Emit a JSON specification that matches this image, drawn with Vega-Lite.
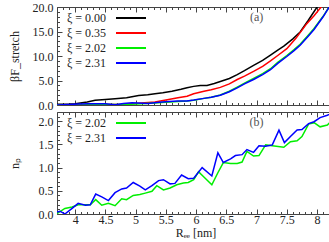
{
  "$schema": "https://vega.github.io/schema/vega-lite/v6.json",
  "padding": {"left": 7, "top": 0, "right": 2, "bottom": 0},
  "spacing": -6,
  "config": {
    "view": {"stroke": "#444", "strokeWidth": 1},
    "font": "Liberation Serif",
    "axis": {"domain": false, "grid": false, "tickColor": "#444", "labelFont": "Liberation Serif", "labelFontSize": 12, "labelColor": "#222", "titleFont": "Liberation Serif", "titleFontSize": 12, "titleFontWeight": "normal", "titleColor": "#222", "labelOverlap": false, "labelFlush": false},
    "legend": {"labelFont": "Liberation Serif", "labelFontSize": 12, "labelColor": "#222", "padding": 0}
  },
  "datasets": {
    "top": [
      {"R": 3.70, "F": 0.15, "xi": "ξ = 0.00"},
      {"R": 3.90, "F": 0.2, "xi": "ξ = 0.00"},
      {"R": 4.00, "F": 0.27, "xi": "ξ = 0.00"},
      {"R": 4.20, "F": 0.6, "xi": "ξ = 0.00"},
      {"R": 4.33, "F": 0.95, "xi": "ξ = 0.00"},
      {"R": 4.50, "F": 1.1, "xi": "ξ = 0.00"},
      {"R": 4.66, "F": 1.27, "xi": "ξ = 0.00"},
      {"R": 4.85, "F": 1.5, "xi": "ξ = 0.00"},
      {"R": 5.05, "F": 1.95, "xi": "ξ = 0.00"},
      {"R": 5.20, "F": 2.1, "xi": "ξ = 0.00"},
      {"R": 5.32, "F": 2.3, "xi": "ξ = 0.00"},
      {"R": 5.45, "F": 2.5, "xi": "ξ = 0.00"},
      {"R": 5.60, "F": 2.8, "xi": "ξ = 0.00"},
      {"R": 5.75, "F": 3.2, "xi": "ξ = 0.00"},
      {"R": 5.85, "F": 3.5, "xi": "ξ = 0.00"},
      {"R": 5.96, "F": 3.8, "xi": "ξ = 0.00"},
      {"R": 6.07, "F": 4.0, "xi": "ξ = 0.00"},
      {"R": 6.18, "F": 4.0, "xi": "ξ = 0.00"},
      {"R": 6.30, "F": 4.4, "xi": "ξ = 0.00"},
      {"R": 6.40, "F": 4.8, "xi": "ξ = 0.00"},
      {"R": 6.55, "F": 5.4, "xi": "ξ = 0.00"},
      {"R": 6.68, "F": 6.2, "xi": "ξ = 0.00"},
      {"R": 6.80, "F": 7.0, "xi": "ξ = 0.00"},
      {"R": 6.95, "F": 8.1, "xi": "ξ = 0.00"},
      {"R": 7.10, "F": 9.1, "xi": "ξ = 0.00"},
      {"R": 7.23, "F": 10.2, "xi": "ξ = 0.00"},
      {"R": 7.35, "F": 11.2, "xi": "ξ = 0.00"},
      {"R": 7.45, "F": 12.0, "xi": "ξ = 0.00"},
      {"R": 7.60, "F": 13.5, "xi": "ξ = 0.00"},
      {"R": 7.72, "F": 14.9, "xi": "ξ = 0.00"},
      {"R": 7.85, "F": 17.2, "xi": "ξ = 0.00"},
      {"R": 8.00, "F": 20.0, "xi": "ξ = 0.00"},
      {"R": 8.05, "F": 21.0, "xi": "ξ = 0.00"},
      {"R": 3.70, "F": 0.0, "xi": "ξ = 0.35"},
      {"R": 4.00, "F": 0.0, "xi": "ξ = 0.35"},
      {"R": 4.30, "F": 0.05, "xi": "ξ = 0.35"},
      {"R": 4.60, "F": 0.1, "xi": "ξ = 0.35"},
      {"R": 4.77, "F": 0.13, "xi": "ξ = 0.35"},
      {"R": 5.00, "F": 0.3, "xi": "ξ = 0.35"},
      {"R": 5.15, "F": 0.45, "xi": "ξ = 0.35"},
      {"R": 5.32, "F": 0.6, "xi": "ξ = 0.35"},
      {"R": 5.50, "F": 1.0, "xi": "ξ = 0.35"},
      {"R": 5.70, "F": 1.5, "xi": "ξ = 0.35"},
      {"R": 5.85, "F": 1.8, "xi": "ξ = 0.35"},
      {"R": 5.96, "F": 2.3, "xi": "ξ = 0.35"},
      {"R": 6.13, "F": 2.8, "xi": "ξ = 0.35"},
      {"R": 6.25, "F": 3.1, "xi": "ξ = 0.35"},
      {"R": 6.40, "F": 3.6, "xi": "ξ = 0.35"},
      {"R": 6.55, "F": 4.3, "xi": "ξ = 0.35"},
      {"R": 6.68, "F": 5.2, "xi": "ξ = 0.35"},
      {"R": 6.80, "F": 5.9, "xi": "ξ = 0.35"},
      {"R": 6.95, "F": 6.85, "xi": "ξ = 0.35"},
      {"R": 7.10, "F": 7.9, "xi": "ξ = 0.35"},
      {"R": 7.23, "F": 9.0, "xi": "ξ = 0.35"},
      {"R": 7.35, "F": 10.1, "xi": "ξ = 0.35"},
      {"R": 7.50, "F": 11.5, "xi": "ξ = 0.35"},
      {"R": 7.65, "F": 13.6, "xi": "ξ = 0.35"},
      {"R": 7.83, "F": 16.6, "xi": "ξ = 0.35"},
      {"R": 7.95, "F": 18.2, "xi": "ξ = 0.35"},
      {"R": 8.10, "F": 20.5, "xi": "ξ = 0.35"},
      {"R": 3.70, "F": 0.0, "xi": "ξ = 2.02"},
      {"R": 4.00, "F": 0.0, "xi": "ξ = 2.02"},
      {"R": 4.30, "F": 0.05, "xi": "ξ = 2.02"},
      {"R": 4.60, "F": 0.1, "xi": "ξ = 2.02"},
      {"R": 4.90, "F": 0.15, "xi": "ξ = 2.02"},
      {"R": 5.10, "F": 0.25, "xi": "ξ = 2.02"},
      {"R": 5.30, "F": 0.4, "xi": "ξ = 2.02"},
      {"R": 5.50, "F": 0.55, "xi": "ξ = 2.02"},
      {"R": 5.70, "F": 0.7, "xi": "ξ = 2.02"},
      {"R": 5.85, "F": 0.8, "xi": "ξ = 2.02"},
      {"R": 5.96, "F": 0.95, "xi": "ξ = 2.02"},
      {"R": 6.13, "F": 1.35, "xi": "ξ = 2.02"},
      {"R": 6.25, "F": 1.6, "xi": "ξ = 2.02"},
      {"R": 6.40, "F": 2.05, "xi": "ξ = 2.02"},
      {"R": 6.55, "F": 2.8, "xi": "ξ = 2.02"},
      {"R": 6.68, "F": 3.65, "xi": "ξ = 2.02"},
      {"R": 6.80, "F": 4.45, "xi": "ξ = 2.02"},
      {"R": 6.95, "F": 5.4, "xi": "ξ = 2.02"},
      {"R": 7.10, "F": 6.4, "xi": "ξ = 2.02"},
      {"R": 7.23, "F": 7.4, "xi": "ξ = 2.02"},
      {"R": 7.35, "F": 8.7, "xi": "ξ = 2.02"},
      {"R": 7.50, "F": 10.1, "xi": "ξ = 2.02"},
      {"R": 7.62, "F": 11.3, "xi": "ξ = 2.02"},
      {"R": 7.72, "F": 12.4, "xi": "ξ = 2.02"},
      {"R": 7.85, "F": 14.2, "xi": "ξ = 2.02"},
      {"R": 7.95, "F": 15.6, "xi": "ξ = 2.02"},
      {"R": 8.10, "F": 18.1, "xi": "ξ = 2.02"},
      {"R": 8.20, "F": 20.0, "xi": "ξ = 2.02"},
      {"R": 8.25, "F": 20.9, "xi": "ξ = 2.02"},
      {"R": 3.70, "F": 0.0, "xi": "ξ = 2.31"},
      {"R": 3.90, "F": 0.1, "xi": "ξ = 2.31"},
      {"R": 4.05, "F": 0.2, "xi": "ξ = 2.31"},
      {"R": 4.22, "F": 0.27, "xi": "ξ = 2.31"},
      {"R": 4.50, "F": 0.27, "xi": "ξ = 2.31"},
      {"R": 4.66, "F": 0.05, "xi": "ξ = 2.31"},
      {"R": 4.80, "F": 0.3, "xi": "ξ = 2.31"},
      {"R": 4.94, "F": 0.47, "xi": "ξ = 2.31"},
      {"R": 5.21, "F": 0.33, "xi": "ξ = 2.31"},
      {"R": 5.35, "F": 0.5, "xi": "ξ = 2.31"},
      {"R": 5.49, "F": 0.67, "xi": "ξ = 2.31"},
      {"R": 5.70, "F": 0.8, "xi": "ξ = 2.31"},
      {"R": 5.85, "F": 0.82, "xi": "ξ = 2.31"},
      {"R": 5.96, "F": 1.0, "xi": "ξ = 2.31"},
      {"R": 6.13, "F": 1.35, "xi": "ξ = 2.31"},
      {"R": 6.25, "F": 1.6, "xi": "ξ = 2.31"},
      {"R": 6.40, "F": 2.0, "xi": "ξ = 2.31"},
      {"R": 6.55, "F": 2.7, "xi": "ξ = 2.31"},
      {"R": 6.68, "F": 3.5, "xi": "ξ = 2.31"},
      {"R": 6.80, "F": 4.3, "xi": "ξ = 2.31"},
      {"R": 6.95, "F": 5.2, "xi": "ξ = 2.31"},
      {"R": 7.10, "F": 6.2, "xi": "ξ = 2.31"},
      {"R": 7.23, "F": 7.2, "xi": "ξ = 2.31"},
      {"R": 7.35, "F": 8.5, "xi": "ξ = 2.31"},
      {"R": 7.50, "F": 9.9, "xi": "ξ = 2.31"},
      {"R": 7.62, "F": 11.1, "xi": "ξ = 2.31"},
      {"R": 7.72, "F": 12.2, "xi": "ξ = 2.31"},
      {"R": 7.85, "F": 14.0, "xi": "ξ = 2.31"},
      {"R": 7.95, "F": 15.4, "xi": "ξ = 2.31"},
      {"R": 8.10, "F": 18.0, "xi": "ξ = 2.31"},
      {"R": 8.20, "F": 20.0, "xi": "ξ = 2.31"},
      {"R": 8.25, "F": 20.9, "xi": "ξ = 2.31"}
    ],
    "bottom": [
      {"R": 3.70, "n": 0.01, "xi": "ξ = 2.02"},
      {"R": 3.83, "n": 0.12, "xi": "ξ = 2.02"},
      {"R": 3.95, "n": 0.15, "xi": "ξ = 2.02"},
      {"R": 4.05, "n": 0.2, "xi": "ξ = 2.02"},
      {"R": 4.17, "n": 0.2, "xi": "ξ = 2.02"},
      {"R": 4.25, "n": 0.2, "xi": "ξ = 2.02"},
      {"R": 4.34, "n": 0.31, "xi": "ξ = 2.02"},
      {"R": 4.44, "n": 0.19, "xi": "ξ = 2.02"},
      {"R": 4.55, "n": 0.23, "xi": "ξ = 2.02"},
      {"R": 4.66, "n": 0.18, "xi": "ξ = 2.02"},
      {"R": 4.77, "n": 0.33, "xi": "ξ = 2.02"},
      {"R": 4.85, "n": 0.31, "xi": "ξ = 2.02"},
      {"R": 4.96, "n": 0.4, "xi": "ξ = 2.02"},
      {"R": 5.07, "n": 0.42, "xi": "ξ = 2.02"},
      {"R": 5.16, "n": 0.45, "xi": "ξ = 2.02"},
      {"R": 5.27, "n": 0.49, "xi": "ξ = 2.02"},
      {"R": 5.35, "n": 0.61, "xi": "ξ = 2.02"},
      {"R": 5.46, "n": 0.52, "xi": "ξ = 2.02"},
      {"R": 5.57, "n": 0.56, "xi": "ξ = 2.02"},
      {"R": 5.68, "n": 0.63, "xi": "ξ = 2.02"},
      {"R": 5.79, "n": 0.67, "xi": "ξ = 2.02"},
      {"R": 5.87, "n": 0.68, "xi": "ξ = 2.02"},
      {"R": 5.96, "n": 0.74, "xi": "ξ = 2.02"},
      {"R": 6.04, "n": 0.91, "xi": "ξ = 2.02"},
      {"R": 6.15, "n": 0.77, "xi": "ξ = 2.02"},
      {"R": 6.26, "n": 0.63, "xi": "ξ = 2.02"},
      {"R": 6.36, "n": 0.89, "xi": "ξ = 2.02"},
      {"R": 6.45, "n": 1.11, "xi": "ξ = 2.02"},
      {"R": 6.57, "n": 1.09, "xi": "ξ = 2.02"},
      {"R": 6.68, "n": 1.09, "xi": "ξ = 2.02"},
      {"R": 6.76, "n": 1.12, "xi": "ξ = 2.02"},
      {"R": 6.84, "n": 1.35, "xi": "ξ = 2.02"},
      {"R": 6.95, "n": 1.25, "xi": "ξ = 2.02"},
      {"R": 7.04, "n": 1.26, "xi": "ξ = 2.02"},
      {"R": 7.15, "n": 1.49, "xi": "ξ = 2.02"},
      {"R": 7.26, "n": 1.47, "xi": "ξ = 2.02"},
      {"R": 7.45, "n": 1.44, "xi": "ξ = 2.02"},
      {"R": 7.56, "n": 1.56, "xi": "ξ = 2.02"},
      {"R": 7.67, "n": 1.58, "xi": "ξ = 2.02"},
      {"R": 7.75, "n": 1.67, "xi": "ξ = 2.02"},
      {"R": 7.86, "n": 1.94, "xi": "ξ = 2.02"},
      {"R": 7.95, "n": 1.97, "xi": "ξ = 2.02"},
      {"R": 8.05, "n": 1.88, "xi": "ξ = 2.02"},
      {"R": 8.17, "n": 1.92, "xi": "ξ = 2.02"},
      {"R": 8.28, "n": 2.06, "xi": "ξ = 2.02"},
      {"R": 3.70, "n": 0.04, "xi": "ξ = 2.31"},
      {"R": 3.75, "n": 0.06, "xi": "ξ = 2.31"},
      {"R": 3.83, "n": 0.0, "xi": "ξ = 2.31"},
      {"R": 3.95, "n": 0.12, "xi": "ξ = 2.31"},
      {"R": 4.05, "n": 0.23, "xi": "ξ = 2.31"},
      {"R": 4.17, "n": 0.19, "xi": "ξ = 2.31"},
      {"R": 4.25, "n": 0.2, "xi": "ξ = 2.31"},
      {"R": 4.34, "n": 0.43, "xi": "ξ = 2.31"},
      {"R": 4.44, "n": 0.37, "xi": "ξ = 2.31"},
      {"R": 4.55, "n": 0.29, "xi": "ξ = 2.31"},
      {"R": 4.66, "n": 0.46, "xi": "ξ = 2.31"},
      {"R": 4.77, "n": 0.54, "xi": "ξ = 2.31"},
      {"R": 4.85, "n": 0.56, "xi": "ξ = 2.31"},
      {"R": 4.96, "n": 0.68, "xi": "ξ = 2.31"},
      {"R": 5.07, "n": 0.6, "xi": "ξ = 2.31"},
      {"R": 5.16, "n": 0.52, "xi": "ξ = 2.31"},
      {"R": 5.27, "n": 0.61, "xi": "ξ = 2.31"},
      {"R": 5.38, "n": 0.72, "xi": "ξ = 2.31"},
      {"R": 5.46, "n": 0.74, "xi": "ξ = 2.31"},
      {"R": 5.57, "n": 0.65, "xi": "ξ = 2.31"},
      {"R": 5.65, "n": 0.66, "xi": "ξ = 2.31"},
      {"R": 5.76, "n": 0.84, "xi": "ξ = 2.31"},
      {"R": 5.87, "n": 0.76, "xi": "ξ = 2.31"},
      {"R": 5.96, "n": 0.77, "xi": "ξ = 2.31"},
      {"R": 6.10, "n": 1.0, "xi": "ξ = 2.31"},
      {"R": 6.26, "n": 0.82, "xi": "ξ = 2.31"},
      {"R": 6.36, "n": 1.32, "xi": "ξ = 2.31"},
      {"R": 6.45, "n": 1.11, "xi": "ξ = 2.31"},
      {"R": 6.57, "n": 1.19, "xi": "ξ = 2.31"},
      {"R": 6.65, "n": 1.26, "xi": "ξ = 2.31"},
      {"R": 6.76, "n": 1.28, "xi": "ξ = 2.31"},
      {"R": 6.84, "n": 1.39, "xi": "ξ = 2.31"},
      {"R": 6.95, "n": 1.33, "xi": "ξ = 2.31"},
      {"R": 7.04, "n": 1.47, "xi": "ξ = 2.31"},
      {"R": 7.15, "n": 1.46, "xi": "ξ = 2.31"},
      {"R": 7.26, "n": 1.49, "xi": "ξ = 2.31"},
      {"R": 7.37, "n": 1.81, "xi": "ξ = 2.31"},
      {"R": 7.46, "n": 1.54, "xi": "ξ = 2.31"},
      {"R": 7.56, "n": 1.67, "xi": "ξ = 2.31"},
      {"R": 7.67, "n": 1.81, "xi": "ξ = 2.31"},
      {"R": 7.75, "n": 1.82, "xi": "ξ = 2.31"},
      {"R": 7.86, "n": 1.95, "xi": "ξ = 2.31"},
      {"R": 7.95, "n": 1.99, "xi": "ξ = 2.31"},
      {"R": 8.05, "n": 2.08, "xi": "ξ = 2.31"},
      {"R": 8.17, "n": 2.13, "xi": "ξ = 2.31"},
      {"R": 8.26, "n": 2.18, "xi": "ξ = 2.31"}
    ]
  },
  "vconcat": [
    {
      "width": 277,
      "height": 98,
      "data": {"name": "top"},
      "layer": [
        {
          "mark": {"type": "line", "strokeWidth": 1.5, "clip": true},
          "encoding": {
            "x": {"field": "R", "type": "quantitative", "scale": {"domain": [3.7, 8.28], "nice": false, "zero": false},
              "axis": {"orient": "bottom", "title": null, "labels": false, "minExtent": 0, "maxExtent": 0,
                "values": [3.7,3.8,3.9,4,4.1,4.2,4.3,4.4,4.5,4.6,4.7,4.8,4.9,5,5.1,5.2,5.3,5.4,5.5,5.6,5.7,5.8,5.9,6,6.1,6.2,6.3,6.4,6.5,6.6,6.7,6.8,6.9,7,7.1,7.2,7.3,7.4,7.5,7.6,7.7,7.8,7.9,8,8.1,8.2],
                "tickSize": {"condition": {"test": "abs(datum.value*2 - round(datum.value*2)) < 0.001", "value": -5}, "value": -2.5}}},
            "y": {"field": "F", "type": "quantitative", "scale": {"domain": [0, 20], "nice": false, "zero": false},
              "axis": {"orient": "left", "title": "βF_stretch", "titlePadding": 6, "minExtent": 30, "maxExtent": 30,
                "values": [0,1,2,3,4,5,6,7,8,9,10,11,12,13,14,15,16,17,18,19,20],
                "labelExpr": "datum.value % 5 == 0 ? format(datum.value, '.1f') : ''",
                "labelPadding": 9,
                "tickSize": {"condition": {"test": "datum.value % 5 == 0", "value": -5}, "value": -2.5}}},
            "color": {"field": "xi", "type": "nominal",
              "scale": {"domain": ["ξ = 0.00", "ξ = 0.35", "ξ = 2.02", "ξ = 2.31"], "range": ["#000000", "#ff0000", "#00ee00", "#0000ff"]},
              "legend": {"orient": "none", "legendX": 68, "legendY": 5, "title": null, "symbolType": "M-3,0H3", "symbolSize": 100, "symbolStrokeWidth": 2, "labelAlign": "right", "labelOffset": -31, "rowPadding": 3}}
          }
        },
        {
          "mark": {"type": "line", "strokeOpacity": 0},
          "encoding": {
            "x": {"field": "R", "type": "quantitative",
              "axis": {"orient": "top", "title": null, "labels": false, "minExtent": 0, "maxExtent": 0,
                "values": [3.7,3.8,3.9,4,4.1,4.2,4.3,4.4,4.5,4.6,4.7,4.8,4.9,5,5.1,5.2,5.3,5.4,5.5,5.6,5.7,5.8,5.9,6,6.1,6.2,6.3,6.4,6.5,6.6,6.7,6.8,6.9,7,7.1,7.2,7.3,7.4,7.5,7.6,7.7,7.8,7.9,8,8.1,8.2],
                "tickSize": {"condition": {"test": "abs(datum.value*2 - round(datum.value*2)) < 0.001", "value": -5}, "value": -2.5}}},
            "y": {"field": "F", "type": "quantitative",
              "axis": {"orient": "right", "title": null, "labels": false, "minExtent": 0, "maxExtent": 0,
                "values": [0,1,2,3,4,5,6,7,8,9,10,11,12,13,14,15,16,17,18,19,20],
                "tickSize": {"condition": {"test": "datum.value % 5 == 0", "value": -5}, "value": -2.5}}},
            "detail": {"field": "xi"}
          }
        },
        {
          "data": {"values": [{}]},
          "mark": {"type": "text", "fontSize": 12, "color": "#555", "font": "Liberation Serif"},
          "encoding": {
            "x": {"datum": 7.0, "type": "quantitative", "axis": null},
            "y": {"datum": 17.9, "type": "quantitative", "axis": null},
            "text": {"value": "(a)"}
          }
        }
      ],
      "resolve": {"axis": {"x": "independent", "y": "independent"}}
    },
    {
      "width": 277,
      "height": 102,
      "data": {"name": "bottom"},
      "layer": [
        {
          "mark": {"type": "line", "strokeWidth": 1.5, "clip": true},
          "encoding": {
            "x": {"field": "R", "type": "quantitative", "scale": {"domain": [3.7, 8.28], "nice": false, "zero": false},
              "axis": {"orient": "bottom", "title": "Rₑₑ [nm]", "titlePadding": 0,
                "values": [3.7,3.8,3.9,4,4.1,4.2,4.3,4.4,4.5,4.6,4.7,4.8,4.9,5,5.1,5.2,5.3,5.4,5.5,5.6,5.7,5.8,5.9,6,6.1,6.2,6.3,6.4,6.5,6.6,6.7,6.8,6.9,7,7.1,7.2,7.3,7.4,7.5,7.6,7.7,7.8,7.9,8,8.1,8.2],
                "labelExpr": "abs(datum.value*2 - round(datum.value*2)) < 0.001 ? format(datum.value, '~g') : ''",
                "labelPadding": 5,
                "tickSize": {"condition": {"test": "abs(datum.value*2 - round(datum.value*2)) < 0.001", "value": -5}, "value": -2.5}}},
            "y": {"field": "n", "type": "quantitative", "scale": {"domain": [0, 2.2], "nice": false, "zero": false},
              "axis": {"orient": "left", "title": "nₚ", "titlePadding": 6, "minExtent": 30, "maxExtent": 30,
                "values": [0,0.1,0.2,0.3,0.4,0.5,0.6,0.7,0.8,0.9,1,1.1,1.2,1.3,1.4,1.5,1.6,1.7,1.8,1.9,2,2.1],
                "labelExpr": "abs(datum.value*2 - round(datum.value*2)) < 0.001 ? format(datum.value, '.1f') : ''",
                "labelPadding": 9,
                "tickSize": {"condition": {"test": "abs(datum.value*2 - round(datum.value*2)) < 0.001", "value": -5}, "value": -2.5}}},
            "color": {"field": "xi", "type": "nominal",
              "scale": {"domain": ["ξ = 2.02", "ξ = 2.31"], "range": ["#00ee00", "#0000ff"]},
              "legend": {"orient": "none", "legendX": 68, "legendY": 5, "title": null, "symbolType": "M-3,0H3", "symbolSize": 100, "symbolStrokeWidth": 2, "labelAlign": "right", "labelOffset": -31, "rowPadding": 3}}
          }
        },
        {
          "mark": {"type": "line", "strokeOpacity": 0},
          "encoding": {
            "x": {"field": "R", "type": "quantitative",
              "axis": {"orient": "top", "title": null, "labels": false, "minExtent": 0, "maxExtent": 0,
                "values": [3.7,3.8,3.9,4,4.1,4.2,4.3,4.4,4.5,4.6,4.7,4.8,4.9,5,5.1,5.2,5.3,5.4,5.5,5.6,5.7,5.8,5.9,6,6.1,6.2,6.3,6.4,6.5,6.6,6.7,6.8,6.9,7,7.1,7.2,7.3,7.4,7.5,7.6,7.7,7.8,7.9,8,8.1,8.2],
                "tickSize": {"condition": {"test": "abs(datum.value*2 - round(datum.value*2)) < 0.001", "value": -5}, "value": -2.5}}},
            "y": {"field": "n", "type": "quantitative",
              "axis": {"orient": "right", "title": null, "labels": false, "minExtent": 0, "maxExtent": 0,
                "values": [0,0.1,0.2,0.3,0.4,0.5,0.6,0.7,0.8,0.9,1,1.1,1.2,1.3,1.4,1.5,1.6,1.7,1.8,1.9,2,2.1],
                "tickSize": {"condition": {"test": "abs(datum.value*2 - round(datum.value*2)) < 0.001", "value": -5}, "value": -2.5}}},
            "detail": {"field": "xi"}
          }
        },
        {
          "data": {"values": [{}]},
          "mark": {"type": "text", "fontSize": 12, "color": "#555", "font": "Liberation Serif"},
          "encoding": {
            "x": {"datum": 7.0, "type": "quantitative", "axis": null},
            "y": {"datum": 1.99, "type": "quantitative", "axis": null},
            "text": {"value": "(b)"}
          }
        }
      ],
      "resolve": {"axis": {"x": "independent", "y": "independent"}}
    }
  ],
  "resolve": {"scale": {"color": "independent"}, "legend": {"color": "independent"}}
}
